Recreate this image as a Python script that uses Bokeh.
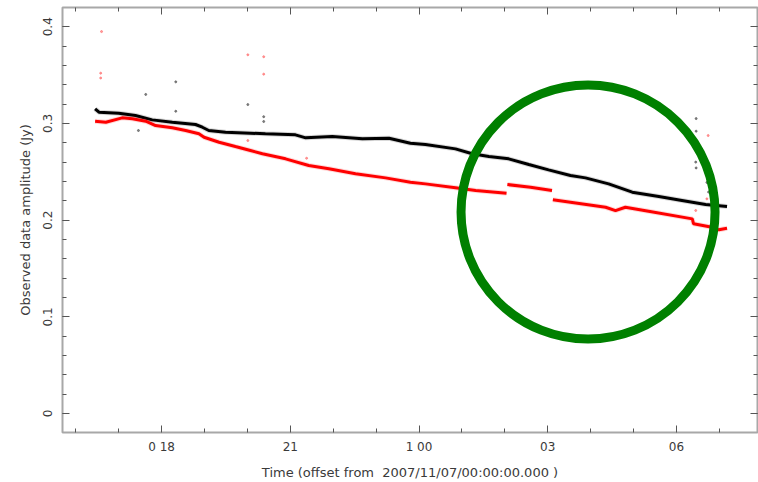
import math
from bokeh.plotting import figure
from bokeh.models import Range1d, FixedTicker, LinearAxis
from bokeh.embed import file_html
from bokeh.resources import INLINE

# ---- data (hours since 2007/11/07 00:00, continuing past 24) ----
black_t = [16.45, 16.54, 17.00, 17.39, 17.78, 18.25, 18.79, 18.95, 19.10, 19.49,
           20.07, 20.42, 21.12, 21.36, 21.98, 22.68, 23.30, 23.80, 24.15, 24.85,
           25.24, 25.63, 26.09, 26.56, 27.02, 27.53, 27.88, 28.42, 28.97, 29.59,
           30.13, 30.68, 31.18]
black_amp = [0.3151, 0.3116, 0.3105, 0.3082, 0.3037, 0.3012, 0.2989, 0.2961, 0.2927, 0.2909,
             0.2899, 0.2893, 0.2882, 0.2851, 0.2865, 0.2841, 0.2847, 0.2795, 0.2782, 0.2737,
             0.2686, 0.2658, 0.2634, 0.2575, 0.2520, 0.2461, 0.2437, 0.2375, 0.2289, 0.2244,
             0.2203, 0.2161, 0.2141]

red_t_1 = [16.45, 16.70, 17.08, 17.32, 17.63, 17.86, 18.25, 18.56, 18.87, 18.99,
           19.34, 19.72, 20.07, 20.35, 20.89, 21.43, 21.90, 22.52, 23.22, 23.80,
           24.15, 24.85, 25.32, 26.04]
red_amp_1 = [0.3023, 0.3012, 0.3058, 0.3048, 0.3023, 0.2978, 0.2955, 0.2927, 0.2893, 0.2857,
             0.2806, 0.2761, 0.2720, 0.2686, 0.2634, 0.2565, 0.2531, 0.2479, 0.2437, 0.2392,
             0.2375, 0.2334, 0.2306, 0.2278]
red_t_2 = [26.06, 26.60, 27.10]
red_amp_2 = [0.2368, 0.2340, 0.2306]
red_t_3 = [27.12, 27.53, 28.35, 28.58, 28.81, 29.35, 30.37, 30.40, 30.83, 30.99, 31.18]
red_amp_3 = [0.2210, 0.2185, 0.2133, 0.2099, 0.2133, 0.2092, 0.2013, 0.1962, 0.1927, 0.1900, 0.1916]

black_out_t = [17.63, 18.33, 18.33, 17.46, 20.01, 20.38, 20.38, 30.46, 30.46, 30.45, 30.46, 30.71, 30.75]
black_out_amp = [0.330, 0.343, 0.3126, 0.2927, 0.3195, 0.307, 0.302, 0.305, 0.292, 0.260, 0.254, 0.239, 0.229]
red_out_t = [16.60, 16.58, 16.58, 20.01, 20.38, 20.38, 20.01, 21.38, 30.74, 30.45, 30.71]
red_out_amp = [0.395, 0.352, 0.347, 0.371, 0.369, 0.351, 0.2823, 0.264, 0.2875, 0.210, 0.222]

x_ticks = [18, 21, 24, 27, 30]
x_tick_labels = ["0 18", "21", "1 00", "03", "06"]
x_minor = [16, 17, 19, 20, 22, 23, 25, 26, 28, 29, 31]
y_ticks = [0.0, 0.1, 0.2, 0.3, 0.4]
y_tick_labels = ["0", "0.1", "0.2", "0.3", "0.4"]
y_minor = [round(0.02 * i, 2) for i in range(21)]

# annotation circle (highlight), in data units
circle_x = [27.94]
circle_y = [0.2084]

FONT = "DejaVu Sans"
TXT = "#3a3a3a"

p = figure(width=758, height=482, output_backend="svg", toolbar_location=None,
           x_range=Range1d(15.69, 31.89), y_range=Range1d(-0.0196, 0.4199),
           min_border_left=62, min_border_right=1, min_border_top=7, min_border_bottom=50,
           x_axis_label="Time (offset from \u00a02007/11/07/00:00:00.000 )",
           y_axis_label="Observed data amplitude (Jy)")
p.grid.visible = False
p.background_fill_color = "white"
p.border_fill_color = "white"
p.outline_line_color = "#a8a8a8"
p.outline_line_width = 2

xt = FixedTicker(ticks=x_ticks, minor_ticks=x_minor)
yt = FixedTicker(ticks=y_ticks, minor_ticks=y_minor)

def style(ax, ticker, labels=None, show=True):
    ax.ticker = ticker
    ax.axis_line_color = None
    ax.major_tick_in = 7
    ax.major_tick_out = 0
    ax.minor_tick_in = 4
    ax.minor_tick_out = 0
    ax.major_tick_line_color = "#555555"
    ax.minor_tick_line_color = "#555555"
    if show:
        ax.major_label_overrides = labels
        ax.major_label_text_font = FONT
        ax.major_label_text_font_size = "12px"
        ax.major_label_text_color = TXT
        ax.axis_label_text_font = FONT
        ax.axis_label_text_font_size = "13px"
        ax.axis_label_text_font_style = "normal"
        ax.axis_label_text_color = TXT
    else:
        ax.major_label_text_color = None
        ax.major_label_text_font_size = "1px"
        ax.major_label_standoff = 0
        ax.axis_label = None

style(p.xaxis[0], xt, {t: l for t, l in zip(x_ticks, x_tick_labels)})
style(p.yaxis[0], yt, {t: l for t, l in zip(y_ticks, y_tick_labels)})
p.xaxis[0].major_label_standoff = 7
p.xaxis[0].axis_label_standoff = 8
p.yaxis[0].major_label_orientation = "vertical"
p.yaxis[0].major_label_standoff = 10
p.yaxis[0].axis_label_standoff = 8

top = LinearAxis()
style(top, FixedTicker(ticks=x_ticks, minor_ticks=x_minor), show=False)
p.add_layout(top, "above")
right = LinearAxis()
style(right, FixedTicker(ticks=y_ticks, minor_ticks=y_minor), show=False)
p.add_layout(right, "right")

# outliers
p.scatter(black_out_t, black_out_amp, size=2, color="#555555", alpha=0.7)
p.scatter(red_out_t, red_out_amp, size=2, color="#ff6060", alpha=0.6)

# data traces (fuzzy band + core)
p.line(black_t, black_amp, line_color="#000000", line_width=5, line_alpha=0.15)
p.line(black_t, black_amp, line_color="#000000", line_width=3)
red_ts = [red_t_1, red_t_2, red_t_3]
red_as = [red_amp_1, red_amp_2, red_amp_3]
p.multi_line(red_ts, red_as, line_color="#ff0000", line_width=5, line_alpha=0.15)
p.multi_line(red_ts, red_as, line_color="#ff0000", line_width=3)

# highlight circle
p.scatter(circle_x, circle_y, marker="circle", size=254, fill_color=None,
          line_color="#008000", line_width=9)

open("out.html", "w").write(file_html(p, INLINE))
